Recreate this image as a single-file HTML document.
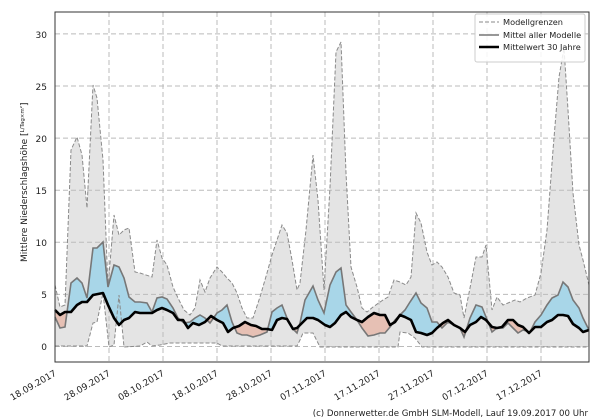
<!DOCTYPE html>
<html><head><meta charset="utf-8"><style>html,body{margin:0;padding:0;background:#fff}svg{display:block}text{font-family:"DejaVu Sans","Liberation Sans",sans-serif;fill:#222}</style></head><body>
<svg width="600" height="420" viewBox="0 0 600 420" xmlns="http://www.w3.org/2000/svg">
<defs>
<clipPath id="above"><polygon points="0,0 600,0 600,330 589,330 583,332 579,328 573,324 568,316 563,315 558,315 552,320 547,322 541,327 535,327 529,333 523,327 518,325 513,320 508,320 502,327 497,328 492,327 486,320 481,317 476,322 470,325 465,332 460,328 454,325 448,320 443,323 437,328 432,333 427,335 421,333 416,332 411,320 405,317 400,315 395,322 390,325 385,315 380,315 374,313 368,317 362,322 357,320 351,317 346,312 341,315 335,323 330,327 325,325 318,320 313,318 307,318 300,325 297,328 293,329 287,319 282,318 277,320 272,330 267,329 262,329 256,326 251,325 245,322 239,326 233,328 228,332 223,323 217,320 211,316 205,322 199,325 193,323 188,328 183,320 178,320 173,313 167,310 162,308 157,310 152,313 140,313 135,312 129,318 124,320 119,325 114,318 108,305 103,293 93,295 87,302 82,302 77,305 71,312 65,312 60,315 55,310 0,310"/></clipPath>
<clipPath id="below"><polygon points="0,420 600,420 600,330 589,330 583,332 579,328 573,324 568,316 563,315 558,315 552,320 547,322 541,327 535,327 529,333 523,327 518,325 513,320 508,320 502,327 497,328 492,327 486,320 481,317 476,322 470,325 465,332 460,328 454,325 448,320 443,323 437,328 432,333 427,335 421,333 416,332 411,320 405,317 400,315 395,322 390,325 385,315 380,315 374,313 368,317 362,322 357,320 351,317 346,312 341,315 335,323 330,327 325,325 318,320 313,318 307,318 300,325 297,328 293,329 287,319 282,318 277,320 272,330 267,329 262,329 256,326 251,325 245,322 239,326 233,328 228,332 223,323 217,320 211,316 205,322 199,325 193,323 188,328 183,320 178,320 173,313 167,310 162,308 157,310 152,313 140,313 135,312 129,318 124,320 119,325 114,318 108,305 103,293 93,295 87,302 82,302 77,305 71,312 65,312 60,315 55,310 0,310"/></clipPath>
</defs>
<polygon fill="#e4e4e4" points="55,285 60,307 65,305 71,150 77,137 82,155 87,208 93,85 97,98 103,160 108,287 114,215 119,235 124,230 129,228 135,272 140,273 152,277 157,240 162,258 167,265 173,287 178,298 184,310 190,315 195,308 200,280 205,292 210,278 217,267 222,272 227,278 232,283 237,293 242,308 247,318 253,318 260,297 267,273 272,255 282,225 287,233 292,260 297,290 300,283 306,230 313,155 318,200 324,290 330,187 336,52 341,42 346,173 351,267 357,287 362,308 367,312 373,307 383,300 388,297 394,280 400,282 406,285 411,277 416,213 421,223 427,252 432,265 437,262 442,267 448,277 454,293 460,295 464,318 470,288 476,257 482,257 486,245 492,310 497,297 503,305 508,303 515,300 520,302 527,298 535,295 541,273 547,230 553,150 559,77 564,48 568,110 573,193 579,245 583,260 589,285 589,347 422,347 415,338 408,333 400,332 398,347 320,347 313,333 303,333 300,340 297,346 222,346 217,343 170,343 160,345 152,346 147,342 140,346 124,347 119,295 114,345 109,347 103,293 97,322 93,323 87,346 55,346"/>
<g stroke="#bbb" stroke-width="1" stroke-dasharray="5,3" fill="none">
<line x1="55" y1="346.5" x2="589" y2="346.5"/><line x1="55" y1="294.4" x2="589" y2="294.4"/><line x1="55" y1="242.3" x2="589" y2="242.3"/><line x1="55" y1="190.2" x2="589" y2="190.2"/><line x1="55" y1="138.1" x2="589" y2="138.1"/><line x1="55" y1="86" x2="589" y2="86"/><line x1="55" y1="33.9" x2="589" y2="33.9"/>
<line x1="109" y1="12" x2="109" y2="362"/><line x1="163" y1="12" x2="163" y2="362"/><line x1="217" y1="12" x2="217" y2="362"/><line x1="271" y1="12" x2="271" y2="362"/><line x1="325" y1="12" x2="325" y2="362"/><line x1="379" y1="12" x2="379" y2="362"/><line x1="433" y1="12" x2="433" y2="362"/><line x1="487" y1="12" x2="487" y2="362"/><line x1="541" y1="12" x2="541" y2="362"/>
</g>
<polygon clip-path="url(#above)" fill="#a8d6e8" points="55,317 60,328 65,327 71,283 77,278 82,283 87,298 93,248 97,248 103,242 108,287 114,265 119,267 124,278 129,297 135,302 140,302 147,303 152,312 157,298 162,297 167,299 173,308 178,318 184,323 190,322 195,318 200,315 205,318 210,323 217,313 222,310 227,305 232,322 237,333 242,335 247,335 253,337 260,335 267,332 272,312 277,308 282,305 287,318 292,328 297,333 300,323 305,300 313,286 318,300 324,313 330,285 336,272 341,268 346,305 351,312 357,320 362,328 368,336 374,335 380,333 385,333 390,327 395,320 400,315 405,310 410,302 416,293 421,303 427,308 432,322 437,322 442,328 448,322 454,325 460,328 464,337 470,318 476,305 482,307 486,317 492,332 497,328 503,328 508,323 513,328 518,333 523,330 530,332 535,322 541,315 547,305 552,298 558,295 563,282 568,287 573,300 579,308 583,318 589,330 589,330 583,332 579,328 573,324 568,316 563,315 558,315 552,320 547,322 541,327 535,327 529,333 523,327 518,325 513,320 508,320 502,327 497,328 492,327 486,320 481,317 476,322 470,325 465,332 460,328 454,325 448,320 443,323 437,328 432,333 427,335 421,333 416,332 411,320 405,317 400,315 395,322 390,325 385,315 380,315 374,313 368,317 362,322 357,320 351,317 346,312 341,315 335,323 330,327 325,325 318,320 313,318 307,318 300,325 297,328 293,329 287,319 282,318 277,320 272,330 267,329 262,329 256,326 251,325 245,322 239,326 233,328 228,332 223,323 217,320 211,316 205,322 199,325 193,323 188,328 183,320 178,320 173,313 167,310 162,308 157,310 152,313 140,313 135,312 129,318 124,320 119,325 114,318 108,305 103,293 93,295 87,302 82,302 77,305 71,312 65,312 60,315 55,310"/>
<polygon clip-path="url(#below)" fill="#e6c0b4" points="55,317 60,328 65,327 71,283 77,278 82,283 87,298 93,248 97,248 103,242 108,287 114,265 119,267 124,278 129,297 135,302 140,302 147,303 152,312 157,298 162,297 167,299 173,308 178,318 184,323 190,322 195,318 200,315 205,318 210,323 217,313 222,310 227,305 232,322 237,333 242,335 247,335 253,337 260,335 267,332 272,312 277,308 282,305 287,318 292,328 297,333 300,323 305,300 313,286 318,300 324,313 330,285 336,272 341,268 346,305 351,312 357,320 362,328 368,336 374,335 380,333 385,333 390,327 395,320 400,315 405,310 410,302 416,293 421,303 427,308 432,322 437,322 442,328 448,322 454,325 460,328 464,337 470,318 476,305 482,307 486,317 492,332 497,328 503,328 508,323 513,328 518,333 523,330 530,332 535,322 541,315 547,305 552,298 558,295 563,282 568,287 573,300 579,308 583,318 589,330 589,330 583,332 579,328 573,324 568,316 563,315 558,315 552,320 547,322 541,327 535,327 529,333 523,327 518,325 513,320 508,320 502,327 497,328 492,327 486,320 481,317 476,322 470,325 465,332 460,328 454,325 448,320 443,323 437,328 432,333 427,335 421,333 416,332 411,320 405,317 400,315 395,322 390,325 385,315 380,315 374,313 368,317 362,322 357,320 351,317 346,312 341,315 335,323 330,327 325,325 318,320 313,318 307,318 300,325 297,328 293,329 287,319 282,318 277,320 272,330 267,329 262,329 256,326 251,325 245,322 239,326 233,328 228,332 223,323 217,320 211,316 205,322 199,325 193,323 188,328 183,320 178,320 173,313 167,310 162,308 157,310 152,313 140,313 135,312 129,318 124,320 119,325 114,318 108,305 103,293 93,295 87,302 82,302 77,305 71,312 65,312 60,315 55,310"/>
<g fill="none" stroke="#8a8a8a" stroke-width="1" stroke-dasharray="4,2">
<polyline points="55,285 60,307 65,305 71,150 77,137 82,155 87,208 93,85 97,98 103,160 108,287 114,215 119,235 124,230 129,228 135,272 140,273 152,277 157,240 162,258 167,265 173,287 178,298 184,310 190,315 195,308 200,280 205,292 210,278 217,267 222,272 227,278 232,283 237,293 242,308 247,318 253,318 260,297 267,273 272,255 282,225 287,233 292,260 297,290 300,283 306,230 313,155 318,200 324,290 330,187 336,52 341,42 346,173 351,267 357,287 362,308 367,312 373,307 383,300 388,297 394,280 400,282 406,285 411,277 416,213 421,223 427,252 432,265 437,262 442,267 448,277 454,293 460,295 464,318 470,288 476,257 482,257 486,245 492,310 497,297 503,305 508,303 515,300 520,302 527,298 535,295 541,273 547,230 553,150 559,77 564,48 568,110 573,193 579,245 583,260 589,285"/>
<polyline points="55,346 87,346 93,323 97,322 103,293 109,347 114,345 119,295 124,347 140,346 147,342 152,346 160,345 170,343 217,343 222,346 297,346 300,340 303,333 313,333 320,347 398,347 400,332 408,333 415,338 422,347 589,347"/>
</g>
<polyline fill="none" stroke="#777" stroke-width="1.6" points="55,317 60,328 65,327 71,283 77,278 82,283 87,298 93,248 97,248 103,242 108,287 114,265 119,267 124,278 129,297 135,302 140,302 147,303 152,312 157,298 162,297 167,299 173,308 178,318 184,323 190,322 195,318 200,315 205,318 210,323 217,313 222,310 227,305 232,322 237,333 242,335 247,335 253,337 260,335 267,332 272,312 277,308 282,305 287,318 292,328 297,333 300,323 305,300 313,286 318,300 324,313 330,285 336,272 341,268 346,305 351,312 357,320 362,328 368,336 374,335 380,333 385,333 390,327 395,320 400,315 405,310 410,302 416,293 421,303 427,308 432,322 437,322 442,328 448,322 454,325 460,328 464,337 470,318 476,305 482,307 486,317 492,332 497,328 503,328 508,323 513,328 518,333 523,330 530,332 535,322 541,315 547,305 552,298 558,295 563,282 568,287 573,300 579,308 583,318 589,330"/>
<polyline fill="none" stroke="#000" stroke-width="2.6" stroke-linejoin="round" points="55,310 60,315 65,312 71,312 77,305 82,302 87,302 93,295 103,293 108,305 114,318 119,325 124,320 129,318 135,312 140,313 152,313 157,310 162,308 167,310 173,313 178,320 183,320 188,328 193,323 199,325 205,322 211,316 217,320 223,323 228,332 233,328 239,326 245,322 251,325 256,326 262,329 267,329 272,330 277,320 282,318 287,319 293,329 297,328 300,325 307,318 313,318 318,320 325,325 330,327 335,323 341,315 346,312 351,317 357,320 362,322 368,317 374,313 380,315 385,315 390,325 395,322 400,315 405,317 411,320 416,332 421,333 427,335 432,333 437,328 443,323 448,320 454,325 460,328 465,332 470,325 476,322 481,317 486,320 492,327 497,328 502,327 508,320 513,320 518,325 523,327 529,333 535,327 541,327 547,322 552,320 558,315 563,315 568,316 573,324 579,328 583,332 589,330"/>
<rect x="55" y="12" width="534" height="350" fill="none" stroke="#333" stroke-width="1"/>
<g font-size="9" text-anchor="end">
<text x="47" y="350">0</text><text x="47" y="298">5</text><text x="47" y="246">10</text><text x="47" y="194">15</text><text x="47" y="142">20</text><text x="47" y="90">25</text><text x="47" y="38">30</text>
</g>
<text font-size="9" transform="translate(27,262) rotate(-90)">Mittlere Niederschlagshöhe [<tspan font-size="5.5" dy="-3">L/Tag×m²</tspan><tspan dy="3">]</tspan></text>
<g font-size="9" text-anchor="end">
<text transform="translate(57,375) rotate(-30)">18.09.2017</text>
<text transform="translate(111,375) rotate(-30)">28.09.2017</text>
<text transform="translate(165,375) rotate(-30)">08.10.2017</text>
<text transform="translate(219,375) rotate(-30)">18.10.2017</text>
<text transform="translate(273,375) rotate(-30)">28.10.2017</text>
<text transform="translate(327,375) rotate(-30)">07.11.2017</text>
<text transform="translate(381,375) rotate(-30)">17.11.2017</text>
<text transform="translate(435,375) rotate(-30)">27.11.2017</text>
<text transform="translate(489,375) rotate(-30)">07.12.2017</text>
<text transform="translate(543,375) rotate(-30)">17.12.2017</text>
</g>
<rect x="475" y="14" width="110" height="48" rx="2" fill="#fff" fill-opacity="0.85" stroke="#ccc"/>
<line x1="479" y1="22" x2="499" y2="22" stroke="#8a8a8a" stroke-dasharray="4,2"/>
<line x1="479" y1="35" x2="499" y2="35" stroke="#777" stroke-width="1.6"/>
<line x1="479" y1="47" x2="499" y2="47" stroke="#000" stroke-width="2.6"/>
<g font-size="8.2"><text x="503" y="25">Modellgrenzen</text><text x="503" y="38">Mittel aller Modelle</text><text x="503" y="50">Mittelwert 30 Jahre</text></g>
<text x="588" y="416" font-size="8.6" text-anchor="end">(c) Donnerwetter.de GmbH SLM-Modell, Lauf 19.09.2017 00 Uhr</text>
</svg>
</body></html>
